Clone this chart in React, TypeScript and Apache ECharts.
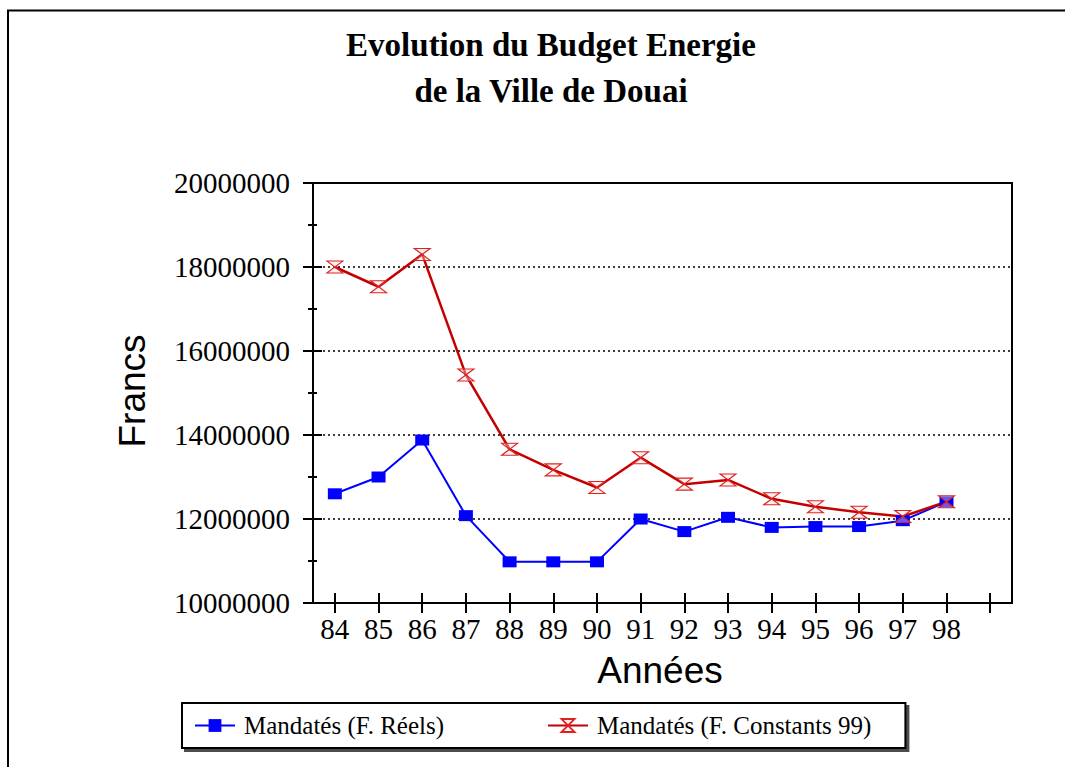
import React, { useEffect, useRef } from "react";
import * as echarts from "echarts";

const years = ["84", "85", "86", "87", "88", "89", "90", "91", "92", "93", "94", "95", "96", "97", "98", ""];
const reels = [12600000, 13000000, 13880000, 12080000, 10980000, 10980000, 10980000, 12000000, 11700000, 12040000, 11800000, 11820000, 11820000, 11960000, 12410000];
const constants99 = [18000000, 17530000, 18300000, 15430000, 13660000, 13170000, 12750000, 13460000, 12830000, 12930000, 12480000, 12290000, 12160000, 12060000, 12410000];
const seriesNames = ["Mandatés (F. Réels)", "Mandatés (F. Constants 99)"];
const titleText = "Evolution du Budget Energie\nde la Ville de Douai";
const yName = "Francs";
const xName = "Années";

const SERIF = "'Liberation Serif', 'Times New Roman', serif";
const SANS = "'Liberation Sans', Arial, sans-serif";
const HOURGLASS = "path://M0,0 L16,0 L0,12 L16,12 Z";

export default function App() {
  const ref = useRef<HTMLDivElement>(null);
  useEffect(() => {
    if (!ref.current) return;
    const chart = echarts.init(ref.current, undefined, { renderer: "svg" });
    const yCommon = { type: "value", min: 10000000, max: 20000000, interval: 2000000, position: "left" };
    chart.setOption({
      animation: false,
      backgroundColor: "#fff",
      title: {
        text: titleText,
        left: 551,
        top: 22,
        padding: 0,
        textAlign: "center",
        textStyle: { fontFamily: SERIF, fontWeight: "bold", fontSize: 33, lineHeight: 46, color: "#000" },
      },
      grid: {
        left: 313, top: 183, right: 53, bottom: 164,
        show: true, borderColor: "#000", borderWidth: 2, containLabel: false,
      },
      legend: {
        left: 182, top: 703,
        padding: [10, 34, 10, 12],
        itemGap: 103,
        itemWidth: 40, itemHeight: 16,
        backgroundColor: "#fff",
        borderColor: "#000", borderWidth: 2,
        shadowColor: "rgba(0,0,0,0.7)", shadowBlur: 1, shadowOffsetX: 3, shadowOffsetY: 3,
        textStyle: { fontFamily: SERIF, fontSize: 25, color: "#000", padding: [0, 0, 0, 4] },
        data: seriesNames,
      },
      xAxis: [
        {
          type: "category", data: years, boundaryGap: true, position: "bottom",
          axisLine: { show: true, lineStyle: { color: "#000", width: 2 } },
          axisTick: { show: true, alignWithLabel: true, length: 10, lineStyle: { color: "#000", width: 2 } },
          axisLabel: { margin: 11, fontFamily: SERIF, fontSize: 29, color: "#000", interval: 0 },
          splitLine: { show: false },
        },
        {
          type: "category", data: years, boundaryGap: true, position: "bottom",
          axisLine: { show: false },
          axisTick: { show: true, inside: true, alignWithLabel: true, length: 10, lineStyle: { color: "#000", width: 2 } },
          axisLabel: { show: false },
          splitLine: { show: false },
        },
      ],
      yAxis: [
        {
          ...yCommon,
          axisLine: { show: true, lineStyle: { color: "#000", width: 2 } },
          axisTick: { show: true, length: 10, lineStyle: { color: "#000", width: 2 } },
          minorTick: { show: true, splitNumber: 2, length: 5, lineStyle: { color: "#000", width: 2 } },
          axisLabel: {
            margin: 23, fontFamily: SERIF, fontSize: 29, color: "#000",
            formatter: (v: number) => String(Math.round(v)),
          },
          splitLine: { show: true, lineStyle: { type: [2, 3], color: "#000", width: 1.5 } },
        },
        {
          ...yCommon,
          axisLine: { show: false },
          axisTick: { show: true, inside: true, length: 9, lineStyle: { color: "#000", width: 2 } },
          minorTick: { show: true, splitNumber: 2, length: 4, lineStyle: { color: "#000", width: 2 } },
          axisLabel: { show: false },
          splitLine: { show: false },
        },
      ],
      graphic: [
        {
          type: "rect", silent: true,
          shape: { x: 8, y: 10.5, width: 1200, height: 900 },
          style: { fill: "none", stroke: "#000", lineWidth: 2 },
        },
        {
          type: "text", x: 132, y: 391, rotation: Math.PI / 2,
          style: { text: yName, font: `37px ${SANS}`, fill: "#000", align: "center", verticalAlign: "middle" },
        },
        {
          type: "text", x: 660, y: 670,
          style: { text: xName, font: `37px ${SANS}`, fill: "#000", align: "center", verticalAlign: "middle" },
        },
      ],
      series: [
        {
          name: seriesNames[0], type: "line", data: reels, xAxisIndex: 0, yAxisIndex: 0,
          symbol: "rect", symbolSize: [14, 11],
          lineStyle: { color: "#0000ff", width: 2 },
          itemStyle: { color: "#0000ff" },
        },
        {
          name: seriesNames[1], type: "line", data: constants99, xAxisIndex: 0, yAxisIndex: 0,
          symbol: HOURGLASS, symbolSize: [16, 12],
          lineStyle: { color: "#c40000", width: 2.5 },
          itemStyle: { color: "rgba(255,220,220,0.4)", borderColor: "#dd2222", borderWidth: 1.2 },
        },
      ],
    });
    return () => chart.dispose();
  }, []);
  return <div ref={ref} style={{ position: "absolute", left: 0, top: 0, width: 1065, height: 767 }} />;
}
